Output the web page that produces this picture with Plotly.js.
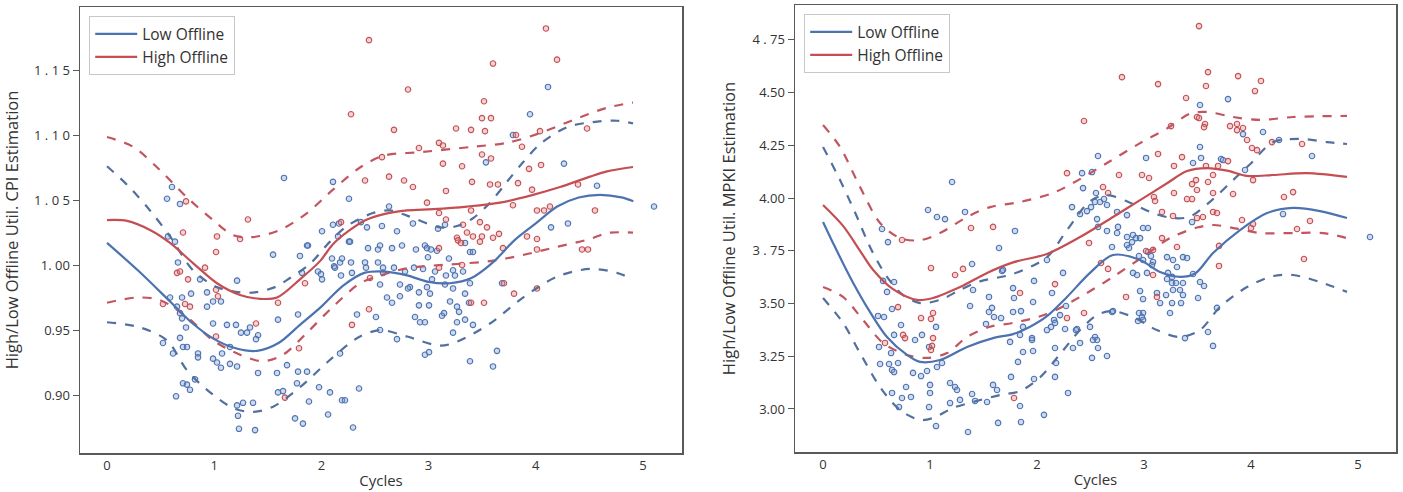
<!DOCTYPE html>
<html>
<head>
<meta charset="utf-8">
<script src="https://cdn.plot.ly/plotly-3.0.1.min.js"></script>
<style>html,body{margin:0;padding:0;background:#fff;}#chart{width:1403px;height:492px;}</style>
</head>
<body>
<div id="chart"></div>
<script>
// ---------- Tick labels ----------
const xTickVals = [0, 1, 2, 3, 4, 5];
const xTickText = ['0', '1', '2', '3', '4', '5'];
const cpiTickVals = [0.90, 0.95, 1.00, 1.05, 1.10, 1.15];
const cpiTickText = ['0.90', '0.95', '1. 00', '1 . 0 5', '1 . 1 0', '1 . 1 5'];
const mpkiTickVals = [3.00, 3.25, 3.50, 3.75, 4.00, 4.25, 4.50, 4.75];
const mpkiTickText = ['3.00', '3.25', '3.50', '3 . 75', '4.00', '4.25', '4.50', '4 . 75'];
const seriesNames = ['Low Offline', 'High Offline'];

// ---------- Left panel (CPI) curves: [cycles, value] ----------
const cpiLowMean = [[0,1.017],[0.3,0.995],[0.6,0.971],[0.8,0.955],[1.0,0.943],[1.2,0.936],[1.4,0.934],[1.6,0.940],[1.8,0.954],[2.0,0.968],[2.2,0.984],[2.4,0.994],[2.6,0.995],[2.8,0.992],[3.0,0.987],[3.2,0.986],[3.4,0.990],[3.6,1.002],[3.8,1.019],[4.0,1.032],[4.2,1.045],[4.4,1.052],[4.6,1.054],[4.8,1.052],[4.91,1.049]];
const cpiLowUpper = [[0,1.076],[0.196,1.061],[0.401,1.042],[0.588,1.022],[0.802,0.996],[1.026,0.983],[1.241,0.979],[1.381,0.979],[1.567,0.983],[1.707,0.990],[1.894,1.001],[2.080,1.018],[2.239,1.030],[2.481,1.040],[2.640,1.042],[2.799,1.038],[3.106,1.029],[3.265,1.030],[3.414,1.036],[3.573,1.048],[3.731,1.064],[3.881,1.079],[4.039,1.093],[4.291,1.106],[4.534,1.110],[4.757,1.111],[4.907,1.109]];
const cpiLowLower = [[0,0.956],[0.308,0.952],[0.560,0.942],[0.746,0.919],[0.933,0.904],[1.175,0.890],[1.362,0.887],[1.549,0.891],[1.800,0.906],[2.052,0.925],[2.267,0.940],[2.360,0.945],[2.547,0.950],[2.799,0.945],[3.106,0.938],[3.265,0.941],[3.573,0.955],[3.881,0.975],[4.198,0.991],[4.506,0.997],[4.757,0.994],[4.907,0.989]];
const cpiHighMean = [[0,1.0346],[0.187,1.034],[0.401,1.027],[0.588,1.017],[0.802,1.0015],[1.026,0.986],[1.241,0.977],[1.427,0.974],[1.586,0.975],[1.800,0.989],[1.987,1.003],[2.108,1.016],[2.267,1.027],[2.425,1.035],[2.575,1.039],[2.799,1.042],[3.041,1.043],[3.358,1.045],[3.666,1.048],[3.974,1.054],[4.226,1.060],[4.506,1.068],[4.664,1.072],[4.907,1.0754]];
const cpiHighUpper = [[0,1.0985],[0.243,1.091],[0.494,1.073],[0.746,1.052],[0.989,1.0346],[1.175,1.023],[1.362,1.0215],[1.614,1.027],[1.866,1.040],[2.108,1.058],[2.360,1.075],[2.575,1.084],[2.948,1.087],[3.414,1.091],[3.731,1.094],[4.039,1.1015],[4.347,1.1115],[4.664,1.121],[4.907,1.125]];
const cpiHighLower = [[0,0.971],[0.280,0.975],[0.494,0.973],[0.746,0.960],[0.989,0.942],[1.241,0.931],[1.455,0.926],[1.642,0.931],[1.866,0.948],[2.108,0.968],[2.360,0.986],[2.481,0.990],[2.799,0.9975],[3.265,1.0008],[3.573,1.003],[3.881,1.0077],[4.198,1.014],[4.506,1.020],[4.664,1.0246],[4.907,1.025]];

// ---------- Left panel (CPI) observations ----------
const cpiLowPoints = [[0.606,1.060],[0.560,1.051],[0.681,1.047],[1.651,1.067],[2.108,1.064],[2.257,1.051],[2.006,1.026],[2.108,1.031],[2.155,1.022],[2.257,1.018],[1.875,1.015],[0.569,1.022],[4.114,1.137],[3.946,1.116],[3.787,1.100],[3.535,1.079],[4.263,1.078],[4.571,1.061],[5.103,1.045],[2.631,1.045],[4.142,1.029],[4.300,1.032],[0.634,1.018],[0.662,1.002],[0.868,0.989],[1.213,0.988],[0.784,0.978],[0.700,0.975],[0.933,0.979],[0.989,0.972],[1.063,0.972],[0.933,0.968],[0.653,0.968],[0.681,0.963],[0.700,0.959],[0.737,0.952],[0.989,0.955],[1.119,0.954],[1.203,0.954],[1.250,0.948],[1.334,0.952],[1.306,0.948],[1.409,0.946],[1.390,0.943],[0.522,0.940],[0.681,0.944],[0.709,0.937],[0.746,0.937],[0.616,0.932],[0.849,0.932],[0.849,0.929],[0.989,0.928],[1.073,0.932],[1.147,0.937],[1.026,0.925],[1.147,0.924],[1.213,0.922],[1.063,0.921],[1.409,0.917],[1.586,0.917],[1.679,0.923],[1.782,0.918],[1.866,0.918],[0.709,0.909],[0.746,0.908],[0.821,0.912],[0.774,0.904],[0.644,0.899],[1.213,0.892],[1.269,0.894],[1.362,0.894],[1.222,0.884],[1.231,0.874],[1.381,0.873],[1.595,0.902],[1.642,0.903],[1.772,0.909],[1.754,0.882],[1.828,0.878],[2.062,0.885],[1.978,0.906],[2.080,0.902],[1.884,0.895],[2.192,0.896],[2.220,0.896],[2.174,0.932],[1.549,1.008],[1.800,1.007],[1.866,1.015],[2.164,1.032],[1.968,0.995],[1.996,0.993],[2.006,0.989],[2.099,1.005],[2.118,0.999],[2.174,1.002],[2.192,1.005],[1.819,0.994],[1.782,0.962],[1.595,0.958],[2.369,1.033],[2.425,1.029],[2.565,1.030],[2.705,1.026],[2.854,1.032],[3.088,1.028],[3.153,1.031],[2.267,1.018],[2.435,1.013],[2.547,1.015],[2.659,1.013],[2.752,1.015],[2.528,1.012],[2.882,1.012],[2.966,1.015],[2.985,1.013],[3.022,1.012],[2.994,1.006],[3.078,1.011],[3.190,1.005],[3.340,1.017],[3.386,1.010],[3.414,1.010],[2.127,0.998],[2.276,1.002],[2.183,0.992],[2.285,0.994],[2.407,1.002],[2.416,0.998],[2.528,1.002],[2.575,0.998],[2.575,0.994],[2.677,0.998],[2.780,0.995],[2.864,0.998],[2.948,0.997],[3.060,0.995],[3.162,0.992],[3.228,0.996],[3.246,0.992],[3.321,0.995],[2.547,0.985],[2.733,0.985],[2.826,0.983],[2.985,0.983],[3.032,0.989],[3.153,0.985],[3.228,0.982],[3.386,0.986],[3.685,0.986],[2.612,0.975],[2.733,0.976],[2.808,0.982],[2.910,0.979],[3.013,0.978],[3.200,0.972],[3.340,0.978],[3.377,0.971],[2.659,0.971],[2.910,0.969],[3.004,0.969],[3.144,0.963],[3.265,0.968],[3.284,0.964],[2.332,0.962],[2.509,0.960],[2.873,0.960],[2.920,0.956],[2.966,0.956],[3.125,0.961],[3.265,0.956],[3.340,0.958],[3.414,0.954],[3.228,0.948],[2.547,0.950],[2.705,0.943],[2.351,0.905],[2.295,0.875],[2.966,0.931],[3.004,0.933],[3.386,0.926],[3.601,0.922],[3.638,0.934],[0.588,0.975]];
const cpiHighPoints = [[2.444,1.173],[4.095,1.182],[4.198,1.158],[3.601,1.155],[2.808,1.135],[3.517,1.126],[3.498,1.113],[3.582,1.113],[2.276,1.116],[2.677,1.104],[3.256,1.105],[3.396,1.104],[3.526,1.103],[2.910,1.090],[3.097,1.094],[3.134,1.092],[3.498,1.085],[3.582,1.082],[3.134,1.078],[3.312,1.076],[4.039,1.103],[2.565,1.083],[2.407,1.065],[2.631,1.068],[2.771,1.065],[2.854,1.060],[3.162,1.057],[3.405,1.064],[3.573,1.062],[3.647,1.062],[3.834,1.063],[3.965,1.058],[3.937,1.074],[4.049,1.077],[2.985,1.048],[3.787,1.046],[4.011,1.042],[4.077,1.042],[4.132,1.045],[4.394,1.062],[4.478,1.105],[4.552,1.042],[3.097,1.040],[3.815,1.100],[3.871,1.091],[3.396,1.042],[3.162,1.035],[3.321,1.031],[3.479,1.033],[3.545,1.029],[3.358,1.025],[3.265,1.021],[3.414,1.022],[3.498,1.022],[3.601,1.021],[3.657,1.024],[3.097,1.013],[3.274,1.019],[3.302,1.017],[3.479,1.018],[3.694,1.013],[3.918,1.022],[4.011,1.020],[4.011,1.012],[3.312,1.000],[3.097,0.998],[3.703,0.986],[3.797,0.978],[4.011,0.982],[3.517,0.971],[3.396,0.971],[2.444,0.966],[2.285,0.954],[2.183,1.033],[1.847,0.986],[2.453,0.990],[4.431,1.012],[4.487,1.012],[0.709,1.025],[1.026,1.022],[1.241,1.020],[1.017,1.010],[0.653,0.994],[0.681,0.995],[0.756,0.989],[0.914,0.998],[1.017,0.981],[1.035,0.976],[0.522,0.970],[0.728,0.970],[0.774,0.968],[1.595,0.971],[1.390,0.955],[1.017,0.945],[1.791,0.936],[1.660,0.898],[0.737,1.049],[1.315,1.035]];

// ---------- Right panel (MPKI) curves ----------
const mpkiLowMean = [[0,3.886],[0.093,3.787],[0.252,3.626],[0.411,3.483],[0.598,3.341],[0.785,3.256],[0.907,3.223],[1.093,3.232],[1.346,3.294],[1.589,3.336],[1.776,3.355],[1.935,3.390],[2.093,3.440],[2.280,3.531],[2.495,3.645],[2.710,3.730],[2.963,3.706],[3.150,3.649],[3.336,3.626],[3.477,3.642],[3.645,3.739],[3.897,3.848],[4.150,3.929],[4.393,3.953],[4.645,3.938],[4.897,3.905]];
const mpkiLowUpper = [[0,4.242],[0.159,4.085],[0.318,3.910],[0.439,3.768],[0.598,3.626],[0.748,3.540],[0.907,3.502],[1.093,3.517],[1.280,3.564],[1.467,3.605],[1.776,3.640],[2.093,3.720],[2.280,3.848],[2.495,3.985],[2.654,4.014],[2.869,3.978],[3.084,3.929],[3.271,3.905],[3.430,3.912],[3.645,3.995],[3.832,4.085],[3.991,4.160],[4.206,4.265],[4.458,4.280],[4.710,4.265],[4.897,4.256]];
const mpkiLowLower = [[0,3.526],[0.187,3.408],[0.346,3.265],[0.533,3.104],[0.720,2.995],[0.907,2.948],[1.028,2.957],[1.215,3.005],[1.402,3.033],[1.654,3.066],[1.841,3.085],[2.028,3.150],[2.215,3.260],[2.402,3.374],[2.561,3.445],[2.701,3.464],[2.897,3.436],[3.121,3.374],[3.336,3.341],[3.523,3.374],[3.710,3.483],[3.963,3.578],[4.206,3.630],[4.393,3.635],[4.645,3.602],[4.897,3.555]];
const mpkiHighMean = [[0,3.967],[0.187,3.868],[0.346,3.750],[0.467,3.660],[0.654,3.568],[0.879,3.517],[1.028,3.526],[1.280,3.578],[1.533,3.645],[1.776,3.695],[2.093,3.735],[2.402,3.815],[2.710,3.910],[2.963,3.990],[3.215,4.070],[3.402,4.128],[3.589,4.142],[3.776,4.130],[3.963,4.105],[4.206,4.109],[4.523,4.118],[4.897,4.100]];
const mpkiHighUpper = [[0,4.346],[0.159,4.242],[0.346,4.052],[0.533,3.882],[0.720,3.810],[0.907,3.800],[1.093,3.834],[1.346,3.910],[1.561,3.957],[1.841,3.981],[2.150,4.024],[2.336,4.071],[2.654,4.166],[2.963,4.260],[3.215,4.330],[3.430,4.400],[3.589,4.408],[3.832,4.384],[4.084,4.370],[4.393,4.384],[4.897,4.389]];
const mpkiHighLower = [[0,3.578],[0.187,3.531],[0.374,3.422],[0.561,3.313],[0.785,3.256],[0.972,3.242],[1.159,3.265],[1.346,3.341],[1.561,3.390],[1.776,3.408],[2.093,3.450],[2.402,3.531],[2.710,3.626],[3.028,3.735],[3.243,3.810],[3.495,3.860],[3.645,3.872],[3.869,3.855],[4.084,3.834],[4.393,3.834],[4.673,3.834],[4.897,3.810]];

// ---------- Right panel (MPKI) observations ----------
const mpkiLowPoints = [[1.206,4.076],[0.981,3.943],[1.065,3.910],[1.140,3.900],[1.327,3.934],[0.551,3.853],[0.607,3.791],[1.794,3.844],[1.645,3.763],[1.393,3.687],[1.673,3.654],[0.664,3.602],[0.561,3.607],[0.598,3.555],[1.402,3.564],[1.776,3.573],[1.972,3.607],[1.551,3.531],[1.785,3.526],[1.963,3.507],[1.374,3.488],[1.579,3.479],[1.551,3.460],[1.598,3.436],[1.664,3.431],[1.776,3.460],[1.850,3.464],[0.645,3.474],[0.514,3.441],[0.570,3.436],[0.729,3.398],[1.056,3.389],[1.523,3.403],[1.869,3.389],[0.664,3.351],[0.860,3.327],[0.925,3.351],[0.523,3.294],[0.636,3.265],[0.991,3.294],[1.748,3.318],[1.953,3.336],[1.869,3.270],[1.963,3.275],[0.533,3.213],[0.617,3.213],[0.645,3.185],[0.664,3.175],[0.701,3.218],[0.841,3.171],[0.916,3.156],[0.972,3.180],[1.065,3.199],[1.112,3.218],[1.822,3.223],[0.645,3.076],[0.738,3.052],[0.822,3.057],[0.776,3.104],[1.000,3.114],[1.000,3.076],[1.187,3.123],[1.234,3.104],[1.252,3.090],[1.393,3.071],[1.187,3.028],[1.280,3.043],[1.421,3.038],[1.533,3.033],[1.589,3.114],[1.626,3.090],[1.757,3.152],[1.972,3.142],[0.710,3.009],[0.991,3.009],[1.841,3.014],[1.056,2.919],[1.355,2.891],[1.636,2.934],[1.850,2.938],[2.570,4.199],[2.421,4.118],[2.514,4.123],[2.430,4.047],[2.551,4.024],[2.542,3.981],[2.589,3.981],[2.626,3.995],[2.654,3.967],[2.505,3.957],[2.467,3.938],[2.327,3.957],[2.402,3.924],[2.561,3.900],[2.570,3.863],[2.654,3.844],[2.748,3.934],[2.841,3.919],[2.757,3.863],[2.748,3.834],[2.841,3.815],[2.897,3.825],[2.925,3.810],[2.963,3.810],[2.888,3.791],[2.841,3.777],[2.860,3.763],[2.991,3.858],[3.037,3.858],[2.701,3.768],[2.953,3.725],[2.991,3.706],[3.037,3.744],[3.065,3.725],[3.084,3.697],[3.075,3.682],[2.897,3.645],[2.935,3.635],[3.028,3.645],[2.963,3.559],[2.991,3.521],[3.121,3.550],[3.150,3.502],[3.215,3.720],[3.271,3.706],[3.308,3.673],[3.364,3.720],[3.402,3.716],[3.224,3.645],[3.262,3.626],[3.215,3.616],[3.262,3.597],[3.299,3.597],[3.364,3.597],[3.336,3.564],[3.271,3.564],[3.206,3.540],[3.262,3.502],[3.346,3.502],[3.364,3.540],[3.505,3.526],[3.523,3.602],[3.561,3.583],[3.458,3.640],[3.243,3.455],[2.991,3.455],[2.944,3.417],[3.645,3.299],[3.598,3.365],[3.682,3.479],[3.523,4.242],[3.533,4.190],[3.458,4.166],[3.720,4.185],[3.019,4.190],[2.093,3.706],[2.243,3.645],[1.682,3.659],[2.140,3.550],[2.271,3.488],[2.215,3.445],[2.159,3.422],[2.131,3.389],[2.374,3.379],[2.495,3.389],[2.542,3.341],[2.561,3.327],[1.841,3.351],[1.953,3.327],[2.701,3.460],[2.981,3.436],[2.290,3.076],[2.065,2.972],[2.168,3.152],[2.178,3.218],[2.168,3.289],[2.336,3.289],[2.402,3.313],[2.364,3.374],[2.514,3.242],[2.523,3.327],[2.570,3.289],[2.654,3.251],[2.710,3.464],[2.953,3.455],[2.991,3.422],[3.383,3.336],[2.093,3.374],[2.262,3.379],[2.168,3.408],[5.112,3.815],[3.523,4.441],[3.785,4.469],[4.112,4.313],[4.570,4.199],[4.299,3.924],[4.262,4.275],[3.925,4.303],[3.738,4.180],[3.944,4.133],[3.449,3.886]];
const mpkiHighPoints = [[3.514,4.815],[2.794,4.573],[3.131,4.540],[3.598,4.597],[3.579,4.531],[3.879,4.578],[4.093,4.555],[4.037,4.507],[3.393,4.474],[2.439,4.365],[3.252,4.341],[3.495,4.384],[3.514,4.379],[3.570,4.351],[3.561,4.336],[3.804,4.341],[3.869,4.351],[3.869,4.322],[3.925,4.332],[3.963,4.275],[4.009,4.237],[4.056,4.227],[4.196,4.265],[4.477,4.256],[3.131,4.209],[3.355,4.194],[3.280,4.152],[3.579,4.152],[3.692,4.152],[3.785,4.175],[3.486,4.085],[3.598,4.076],[3.645,4.109],[3.449,4.066],[3.495,4.038],[4.019,4.085],[2.280,4.118],[2.766,4.109],[2.981,4.109],[3.047,4.095],[2.617,4.052],[2.664,4.024],[3.280,4.024],[3.402,3.995],[3.449,3.995],[3.645,4.024],[3.832,4.019],[3.093,4.005],[3.103,3.986],[4.308,4.005],[4.393,4.028],[4.551,3.891],[3.916,3.896],[3.645,3.934],[3.682,3.929],[3.551,3.910],[3.495,3.905],[3.168,3.934],[3.271,3.915],[4.000,3.858],[4.019,3.877],[4.430,3.853],[3.308,3.768],[1.589,3.863],[2.486,3.787],[2.598,3.692],[2.664,3.664],[3.084,3.754],[3.168,3.810],[3.019,3.749],[3.701,3.773],[3.701,3.678],[2.832,3.531],[3.084,3.635],[2.439,3.455],[1.841,3.550],[2.168,3.592],[2.280,3.431],[3.121,3.531],[4.495,3.711],[0.738,3.801],[1.383,3.858],[1.009,3.668],[1.234,3.635],[1.308,3.664],[0.701,3.483],[0.916,3.431],[1.009,3.427],[1.028,3.455],[0.748,3.351],[0.766,3.336],[1.028,3.336],[1.019,3.299],[1.009,3.280],[0.579,3.313],[1.785,3.052]];

// ---------- Styling ----------
const BLUE = '#4c72b0', RED = '#c44e52';
const BLUE_DASH = '#52709f', RED_DASH = '#c25560';
const FONT = 'Open Sans, Liberation Sans, sans-serif';

function xs(a){ return a.map(p => p[0]); }
function ys(a){ return a.map(p => p[1]); }

function pointsTrace(pts, color, fill, xa, ya){
  return {type:'scatter', mode:'markers', x:xs(pts), y:ys(pts), xaxis:xa, yaxis:ya,
    showlegend:false, hoverinfo:'skip',
    marker:{size:5.5, color:fill, line:{color:color, width:1.1}}};
}
function lineTrace(pts, color, dash, xa, ya, name, legendKey, show){
  return {type:'scatter', mode:'lines', x:xs(pts), y:ys(pts), xaxis:xa, yaxis:ya,
    name:name, legend:legendKey, showlegend:!!show,
    line:{color:color, width:2.2, dash:dash, shape:'spline', smoothing:0.9}};
}

const blueFill = 'rgba(120,150,205,0.35)';
const redFill = 'rgba(215,130,135,0.35)';

const traces = [
  pointsTrace(cpiLowPoints, BLUE, blueFill, 'x', 'y'),
  pointsTrace(cpiHighPoints, RED, redFill, 'x', 'y'),
  lineTrace(cpiLowUpper, BLUE_DASH, 'dash', 'x', 'y', 'lu', 'legend', false),
  lineTrace(cpiLowLower, BLUE_DASH, 'dash', 'x', 'y', 'll', 'legend', false),
  lineTrace(cpiHighUpper, RED_DASH, 'dash', 'x', 'y', 'hu', 'legend', false),
  lineTrace(cpiHighLower, RED_DASH, 'dash', 'x', 'y', 'hl', 'legend', false),
  lineTrace(cpiLowMean, BLUE, 'solid', 'x', 'y', seriesNames[0], 'legend', true),
  lineTrace(cpiHighMean, RED, 'solid', 'x', 'y', seriesNames[1], 'legend', true),

  pointsTrace(mpkiLowPoints, BLUE, blueFill, 'x2', 'y2'),
  pointsTrace(mpkiHighPoints, RED, redFill, 'x2', 'y2'),
  lineTrace(mpkiLowUpper, BLUE_DASH, 'dash', 'x2', 'y2', 'lu', 'legend2', false),
  lineTrace(mpkiLowLower, BLUE_DASH, 'dash', 'x2', 'y2', 'll', 'legend2', false),
  lineTrace(mpkiHighUpper, RED_DASH, 'dash', 'x2', 'y2', 'hu', 'legend2', false),
  lineTrace(mpkiHighLower, RED_DASH, 'dash', 'x2', 'y2', 'hl', 'legend2', false),
  lineTrace(mpkiLowMean, BLUE, 'solid', 'x2', 'y2', seriesNames[0], 'legend2', true),
  lineTrace(mpkiHighMean, RED, 'solid', 'x2', 'y2', seriesNames[1], 'legend2', true)
];

const axisCommon = {showgrid:false, zeroline:false, showline:true, mirror:true,
  linecolor:'#595959', linewidth:1.5, automargin:false,
  tickfont:{family:FONT, size:13, color:'#333'}};

function xAxis(domain, range, anchor){
  return Object.assign({}, axisCommon, {domain:domain, range:range, anchor:anchor,
    tickmode:'array', tickvals:xTickVals, ticktext:xTickText, ticks:'',
    title:{text:'Cycles', font:{family:FONT, size:15, color:'#333'}, standoff:2}});
}
function yAxis(domain, range, anchor, vals, text, title){
  return Object.assign({}, axisCommon, {domain:domain, range:range, anchor:anchor,
    tickmode:'array', tickvals:vals, ticktext:text, ticks:'outside', ticklen:6,
    tickcolor:'#595959', tickwidth:1,
    title:{text:title, font:{family:FONT, size:16.5, color:'#333'}, standoff:12}});
}

const legendCommon = {xanchor:'left', yanchor:'top', bgcolor:'#ffffff',
  bordercolor:'#c8c8c8', borderwidth:1.2, font:{family:FONT, size:15.5, color:'#333'},
  tracegroupgap:0, itemwidth:42};

const layout = {
  width:1403, height:492,
  margin:{l:0, r:0, t:0, b:0},
  paper_bgcolor:'#ffffff', plot_bgcolor:'#ffffff',
  font:{family:FONT, color:'#333'},
  xaxis: xAxis([80/1403, 682/1403], [-0.252, 5.364], 'y'),
  yaxis: yAxis([1-453/492, 1-7/492], [0.8554, 1.1985], 'x', cpiTickVals, cpiTickText, 'High/Low Offline Util. CPI Estimation'),
  xaxis2: xAxis([795/1403, 1396/1403], [-0.262, 5.355], 'y2'),
  yaxis2: yAxis([1-452/492, 1-5/492], [2.796, 4.915], 'x2', mpkiTickVals, mpkiTickText, 'High/Low Offline Util. MPKI Estimation'),
  legend: Object.assign({}, legendCommon, {x:89/1403, y:1-16/492}),
  legend2: Object.assign({}, legendCommon, {x:804/1403, y:1-14/492}),
  showlegend:true
};

Plotly.newPlot('chart', traces, layout, {displayModeBar:false, staticPlot:true});
</script>
</body>
</html>
